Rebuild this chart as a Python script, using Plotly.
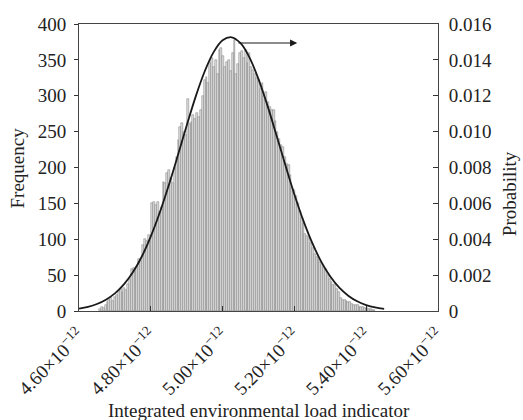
import plotly.graph_objects as go

# Histogram: bin start and width (in units of 1e-12), frequencies
bin_start = 4.656
bin_width = 0.0052
freq = [
    3, 5, 4, 8, 12, 15, 18, 14, 20, 22,
    28, 30, 26, 32, 29, 38, 45, 58, 60, 57,
    62, 72, 70, 92, 100, 98, 106, 98, 150, 152,
    148, 152, 138, 145, 180, 178, 192, 196, 186, 178,
    200, 215, 238, 256, 262, 250, 245, 295, 260, 263,
    273, 268, 276, 270, 280, 300, 322, 326, 318, 346,
    352, 340, 350, 330, 364, 366, 355, 340, 347, 350,
    335, 360, 378, 330, 344, 359, 362, 352, 364, 345,
    360, 340, 336, 330, 325, 322, 310, 318, 300, 305,
    291, 285, 280, 280, 265, 250, 240, 232, 229, 215,
    205, 203, 190, 171, 168, 160, 150, 140, 130, 122,
    108, 105, 102, 95, 88, 80, 75, 72, 68, 65,
    62, 58, 50, 45, 40, 36, 38, 30, 26, 18,
    16, 15, 14, 12, 12, 10, 9, 8, 8, 6,
    6, 5, 4, 4, 3, 3, 2, 2,
]

# Fitted normal curve (probability axis), read at 0.025e-12 steps
curve_x = [4.600, 4.625, 4.650, 4.675, 4.700, 4.725, 4.750, 4.775, 4.800, 4.825,
           4.850, 4.875, 4.900, 4.925, 4.950, 4.975, 5.000, 5.025, 5.050, 5.075,
           5.100, 5.125, 5.150, 5.175, 5.200, 5.225, 5.250, 5.275, 5.300, 5.325,
           5.350, 5.375, 5.400, 5.425, 5.450]
curve_p = [0.000136, 0.000234, 0.000390, 0.000629, 0.000981, 0.00148, 0.00216, 0.00304,
           0.00416, 0.00549, 0.00701, 0.00865, 0.01034, 0.01195, 0.01335, 0.01443,
           0.01509, 0.01526, 0.01493, 0.01413, 0.01293, 0.01145, 0.00980, 0.00812,
           0.00650, 0.00504, 0.00378, 0.00274, 0.00192, 0.00130, 0.000855, 0.000542,
           0.000333, 0.000197, 0.000113]

x_ticks = [4.60, 4.80, 5.00, 5.20, 5.40, 5.60]
x_ticktext = ["4.60×10<sup>−12</sup>", "4.80×10<sup>−12</sup>", "5.00×10<sup>−12</sup>",
              "5.20×10<sup>−12</sup>", "5.40×10<sup>−12</sup>", "5.60×10<sup>−12</sup>"]
y_ticks = [0, 50, 100, 150, 200, 250, 300, 350, 400]
p_ticks = [0, 0.002, 0.004, 0.006, 0.008, 0.010, 0.012, 0.014, 0.016]
p_ticktext = ["0", "0.002", "0.004", "0.006", "0.008", "0.010", "0.012", "0.014", "0.016"]

# Arrow from the curve to the probability axis
arrow_from = (5.040, 0.01494)
arrow_to = (5.208, 0.01494)

E = 1e-12
centers = [(bin_start + bin_width * (i + 0.5)) * E for i in range(len(freq))]

FONT = "Liberation Serif, Times New Roman, serif"
fig = go.Figure()
fig.add_trace(go.Bar(
    x=centers, y=freq, width=bin_width * E,
    marker=dict(color="#dedede", line=dict(color="#7a7a7a", width=0.5)),
    showlegend=False,
))
fig.add_trace(go.Scatter(
    x=[v * E for v in curve_x], y=curve_p, yaxis="y2", mode="lines",
    line=dict(color="#1a1a1a", width=1.8, shape="spline"), showlegend=False,
))

fig.add_annotation(
    x=arrow_to[0] * E, y=arrow_to[1], xref="x", yref="y2",
    ax=arrow_from[0] * E, ay=arrow_from[1], axref="x", ayref="y2",
    showarrow=True, arrowhead=2, arrowsize=1.2, arrowwidth=1.2, arrowcolor="#1a1a1a", text="",
)

fig.add_annotation(text="Integrated environmental load indicator", xref="paper", yref="paper",
                   x=0.5, y=-0.345, xanchor="center", yanchor="middle", showarrow=False,
                   font=dict(family=FONT, size=19, color="#222"))
fig.add_annotation(text="Frequency", xref="paper", yref="paper",
                   x=-0.17, y=0.5, xanchor="center", yanchor="middle", textangle=-90,
                   showarrow=False, font=dict(family=FONT, size=19, color="#222"))
fig.add_annotation(text="Probability", xref="paper", yref="paper",
                   x=1.2, y=0.41, xanchor="center", yanchor="middle", textangle=-90,
                   showarrow=False, font=dict(family=FONT, size=19, color="#222"))

fig.update_layout(
    width=523, height=420,
    margin=dict(l=79, r=85, t=24, b=109, autoexpand=False),
    paper_bgcolor="white", plot_bgcolor="white",
    bargap=0,
    font=dict(family=FONT, size=19, color="#222"),
    xaxis=dict(
        range=[4.60 * E, 5.60 * E], tickvals=[v * E for v in x_ticks], ticktext=x_ticktext,
        tickangle=-45, ticks="inside", ticklen=5, tickcolor="#333", showgrid=False,
        zeroline=False, showline=True, linecolor="#444", linewidth=1, mirror=True,
        ticklabelstandoff=5,
    ),
    yaxis=dict(
        range=[0, 400], tickvals=y_ticks, ticks="outside", ticklen=4, tickcolor="#333",
        showgrid=False, zeroline=False, showline=True, linecolor="#444", linewidth=1,
        ticklabelstandoff=4,
    ),
    yaxis2=dict(
        range=[0, 0.016], tickvals=p_ticks, ticktext=p_ticktext, overlaying="y", side="right",
        ticks="inside", ticklen=5, tickcolor="#333", showgrid=False, zeroline=False,
        showline=True, linecolor="#444", linewidth=1, ticklabelstandoff=6,
    ),
)

fig.write_html("out.html")
